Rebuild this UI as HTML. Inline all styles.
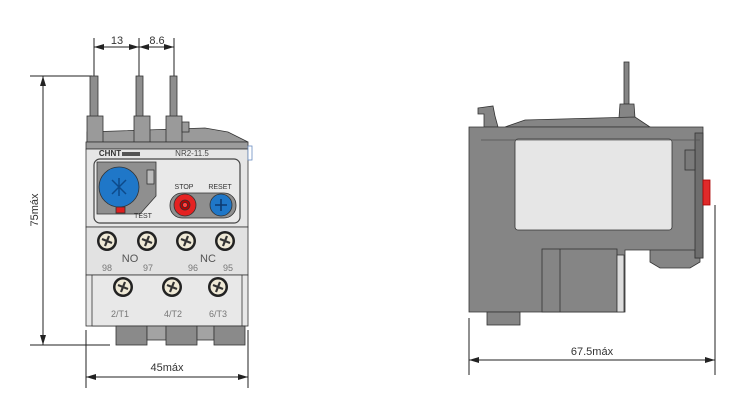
<!DOCTYPE html>
<html><head><meta charset="utf-8"><style>body{margin:0;background:#fff}svg{display:block}</style></head><body>
<svg width="744" height="410" viewBox="0 0 744 410" xmlns="http://www.w3.org/2000/svg" font-family="Liberation Sans, sans-serif">
<defs>
<marker id="a" markerWidth="10" markerHeight="6" refX="10" refY="3" orient="auto-start-reverse" markerUnits="userSpaceOnUse"><path d="M0,0 L10,3 L0,6 Z" fill="#222"/></marker>
<g id="scr"><circle r="10" fill="#222"/><circle r="7.5" fill="#efe9d6"/><path d="M-5,-2 L5,2 M-2,5 L2,-5" stroke="#333" stroke-width="2.2"/></g>
</defs>
<!-- FRONT VIEW dims -->
<g stroke="#222" stroke-width="1" fill="none">
<line x1="94" y1="38" x2="94" y2="80"/><line x1="139" y1="38" x2="139" y2="80"/><line x1="174" y1="38" x2="174" y2="80"/>
<line x1="94" y1="47" x2="139" y2="47" marker-start="url(#a)" marker-end="url(#a)"/>
<line x1="139" y1="47" x2="174" y2="47" marker-start="url(#a)" marker-end="url(#a)"/>
<line x1="30" y1="76" x2="92" y2="76"/><line x1="30" y1="345" x2="110" y2="345"/>
<line x1="43" y1="76" x2="43" y2="345" marker-start="url(#a)" marker-end="url(#a)"/>
<line x1="86" y1="330" x2="86" y2="388"/><line x1="248" y1="330" x2="248" y2="388"/>
<line x1="86" y1="377" x2="248" y2="377" marker-start="url(#a)" marker-end="url(#a)"/>
</g>
<text x="117" y="44" font-size="11" text-anchor="middle" fill="#333">13</text>
<text x="157" y="44" font-size="11" text-anchor="middle" fill="#333">8.6</text>
<text x="0" y="0" font-size="11" fill="#333" text-anchor="middle" transform="translate(38,210) rotate(-90)">75máx</text>
<text x="167" y="371" font-size="11" text-anchor="middle" fill="#333">45máx</text>
<!-- front body -->
<g stroke="#333" stroke-width="0.8">
<rect x="90" y="76" width="8" height="42" fill="#8e8e8e"/><rect x="136" y="76" width="7" height="42" fill="#8e8e8e"/><rect x="170" y="76" width="7" height="42" fill="#8e8e8e"/>
<path d="M87,132 L205,128 L228,132 L248,142 L87,142 Z" fill="#9a9a9a"/>
<rect x="87" y="116" width="16" height="26" fill="#9a9a9a"/><rect x="134" y="116" width="16" height="26" fill="#9a9a9a"/><rect x="166" y="116" width="16" height="26" fill="#9a9a9a"/>
<rect x="182" y="122" width="7" height="10" fill="#9a9a9a"/>
<rect x="86" y="142" width="162" height="7" fill="#9c9c9c"/>
<rect x="86" y="149" width="162" height="78" fill="#e6e6e6"/>
<rect x="248" y="146" width="4" height="14" fill="#fff" stroke="#6a8cc0"/>
<rect x="94" y="159" width="146" height="64" rx="6" fill="#e9e9e9" stroke="#444" stroke-width="1.2"/>
<path d="M97,162 L156,162 L156,196 L140,214 L97,214 Z" fill="#8f8f8f"/>
<rect x="147" y="170" width="7" height="14" fill="#bbb"/>
<circle cx="119" cy="187" r="20" fill="#1f77c8"/>
<rect x="116" y="207" width="9" height="6" fill="#e01e1e"/>
<rect x="170" y="193" width="66" height="25" rx="12" fill="#8f8f8f"/>
<circle cx="185" cy="205" r="11" fill="#e52222"/><circle cx="185" cy="205" r="5" fill="#b00" /><circle cx="185" cy="205" r="2.5" fill="#f44"/>
<circle cx="221" cy="205" r="11" fill="#1f77c8"/>
<rect x="86" y="227" width="162" height="48" fill="#e2e2e2"/>
<rect x="86" y="275" width="162" height="51" fill="#e8e8e8"/>
<rect x="92" y="275" width="150" height="51" fill="#e8e8e8"/>
<rect x="116" y="326" width="31" height="19" fill="#8a8a8a"/><rect x="147" y="326" width="19" height="14" fill="#a3a3a3"/>
<rect x="166" y="326" width="31" height="19" fill="#8a8a8a"/><rect x="197" y="326" width="17" height="14" fill="#a3a3a3"/>
<rect x="214" y="326" width="31" height="19" fill="#8a8a8a"/>
</g>
<path d="M112,180 L126,194 M112,194 L126,180 M119,178 L119,196" stroke="#0d4a8a" stroke-width="1.5"/>
<path d="M215,205 L227,205 M221,199 L221,211" stroke="#0d3a70" stroke-width="1.6"/>
<text x="110" y="156" font-size="8" font-weight="bold" fill="#333" text-anchor="middle">CHNT</text>
<rect x="122" y="152" width="18" height="4" fill="#555"/>
<text x="192" y="156" font-size="8" fill="#444" text-anchor="middle">NR2-11.5</text>
<text x="184" y="189" font-size="7" fill="#333" text-anchor="middle">STOP</text>
<text x="220" y="189" font-size="7" fill="#333" text-anchor="middle">RESET</text>
<text x="143" y="218" font-size="7" fill="#333" text-anchor="middle">TEST</text>
<use href="#scr" x="107" y="241"/><use href="#scr" x="147" y="241"/><use href="#scr" x="186" y="241"/><use href="#scr" x="225" y="241"/>
<use href="#scr" x="123" y="287"/><use href="#scr" x="172" y="287"/><use href="#scr" x="218" y="287"/>
<g font-size="11" fill="#555" text-anchor="middle"><text x="130" y="262">NO</text><text x="208" y="262">NC</text></g>
<g font-size="9" fill="#777" text-anchor="middle"><text x="107" y="271">98</text><text x="148" y="271">97</text><text x="193" y="271">96</text><text x="228" y="271">95</text>
<text x="120" y="317">2/T1</text><text x="173" y="317">4/T2</text><text x="218" y="317">6/T3</text></g>
<!-- SIDE VIEW -->
<g stroke="#333" stroke-width="0.8" fill="#858585">
<rect x="624" y="62" width="5" height="42"/>
<path d="M620,104 L634,104 L635,118 L619,118 Z"/>
<path d="M478,108 L493,106 L495,116 L498,127 L484,127 L484,114 L478,114 Z"/>
<path d="M505,127 L525,120 L635,117 L650,127 Z"/>
<path d="M650,248 L700,248 L700,262 L690,268 L660,268 L650,262 Z"/>
<path d="M469,127 L703,127 L703,258 L695,258 L695,250 L625,250 L625,312 L469,312 Z"/>
<rect x="487" y="312" width="33" height="13"/>
<rect x="542" y="249" width="75" height="63"/>
<line x1="560" y1="249" x2="560" y2="312"/>
<rect x="617" y="255" width="7" height="57" fill="#ddd"/>
<rect x="695" y="133" width="8" height="125" fill="#6e6e6e"/>
<rect x="685" y="150" width="10" height="20" fill="#7a7a7a"/>
<rect x="515" y="139" width="157" height="91" rx="3" fill="#e6e6e6"/>
<rect x="703" y="180" width="7" height="25" fill="#e02a2a" stroke="#a00"/>
</g>
<line x1="481" y1="140" x2="700" y2="140" stroke="#555" stroke-width="0.8"/>
<g stroke="#222" stroke-width="1" fill="none">
<line x1="469" y1="318" x2="469" y2="375"/><line x1="715" y1="205" x2="715" y2="375"/>
<line x1="469" y1="360" x2="715" y2="360" marker-start="url(#a)" marker-end="url(#a)"/>
</g>
<text x="592" y="355" font-size="11" text-anchor="middle" fill="#333">67.5máx</text>
</svg>
</body></html>
